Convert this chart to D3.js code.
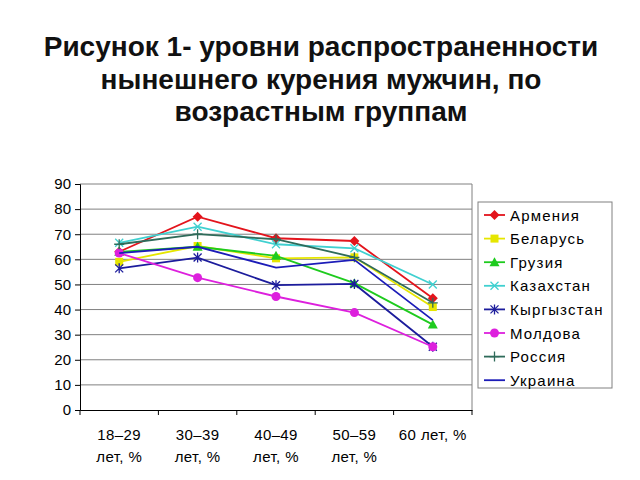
<!DOCTYPE html>
<html><head><meta charset="utf-8">
<script src="https://cdn.jsdelivr.net/npm/d3@7"></script>
<style>body{margin:0;background:#fff}svg{display:block}text{font-family:"Liberation Sans",Arial,sans-serif}</style>
</head><body><svg id="c" width="640" height="480"></svg>
<script>
const categories = [["18–29","лет, %"],["30–39","лет, %"],["40–49","лет, %"],["50–59","лет, %"],["60 лет, %"]];
const seriesNames = ["Армения","Беларусь","Грузия","Казахстан","Кыргызстан","Молдова","Россия","Украина"];
const armenia    = [63, 77, 68.4, 67.3, 44.5];
const belarus    = [59, 65.3, 60.4, 60.8, 41];
const georgia    = [63, 65, 61.4, 50.5, 34];
const kazakhstan = [66.6, 73, 66, 64.4, 50];
const kyrgyzstan = [56.4, 60.7, 49.7, 50.2, 25.2];
const moldova    = [62.5, 52.7, 45.2, 38.8, 25.2];
const russia     = [66, 70, 68, 60.8, 42.7];
const ukraine    = [62.5, 65, 56.7, 59.8, 35.8];
const yTicks = [0,10,20,30,40,50,60,70,80,90];
const colors  = ["#e3141c","#e6e600","#1ecb1e","#40d0d0","#1c1c9c","#dd20dd","#2f6b5a","#1c1cb8"];
const markers = ["diamond","square","triangle","x","asterisk","circle","plus","none"];
const values = [armenia,belarus,georgia,kazakhstan,kyrgyzstan,moldova,russia,ukraine];

const svg = d3.select("#c");
// Title
const title = ["Рисунок 1- уровни распространенности","нынешнего курения мужчин, по","возрастным группам"];
svg.append("g").selectAll("text").data(title).join("text")
  .attr("x",321).attr("y",(d,i)=>56+i*32.5).attr("text-anchor","middle")
  .attr("font-size",28).attr("font-weight","bold").attr("fill","#111").text(d=>d);

const L=80, R=472, T=184, B=410;
const x = d3.scaleBand().domain(d3.range(categories.length)).range([L,R]);
const y = d3.scaleLinear().domain([0,90]).range([B,T]);

// gridlines
svg.append("g").selectAll("line").data(yTicks.filter(d=>d>0)).join("line")
  .attr("x1",L).attr("x2",R).attr("y1",d=>y(d)).attr("y2",d=>y(d))
  .attr("stroke","#808080").attr("stroke-width",1);
svg.append("line").attr("x1",R).attr("x2",R).attr("y1",T).attr("y2",B).attr("stroke","#808080");

// axes
const yAxis = svg.append("g").attr("transform",`translate(${L},0)`)
  .call(d3.axisLeft(y).tickValues(yTicks).tickSize(5).tickPadding(4));
yAxis.select(".domain").attr("stroke","#000");
yAxis.selectAll("line").attr("stroke","#000");
yAxis.selectAll("text").attr("font-size",15).attr("font-family","Liberation Sans, Arial, sans-serif").attr("fill","#000");

const xAxis = svg.append("g").attr("transform",`translate(0,${B})`)
  .call(d3.axisBottom(x).tickSize(0).tickFormat(""));
xAxis.select(".domain").attr("stroke","#000");
svg.append("g").selectAll("line").data(d3.range(categories.length+1)).join("line")
  .attr("x1",i=>L+i*x.bandwidth()).attr("x2",i=>L+i*x.bandwidth())
  .attr("y1",B).attr("y2",B+5).attr("stroke","#000");
const xl = svg.append("g").selectAll("text").data(categories).join("text")
  .attr("x",(d,i)=>x(i)+x.bandwidth()/2).attr("y",440).attr("text-anchor","middle")
  .attr("font-size",15).attr("letter-spacing",0.4).attr("fill","#000");
xl.each(function(d){
  const t=d3.select(this);
  d.forEach((s,j)=>t.append("tspan").attr("x",t.attr("x")).attr("dy",j?21.5:0).text(s));
});

function drawMarker(g, type, color, cx, cy){
  const s=4;
  if(type==="diamond") g.append("path").attr("d",`M${cx},${cy-s-1}L${cx+s+1},${cy}L${cx},${cy+s+1}L${cx-s-1},${cy}Z`).attr("fill",color);
  else if(type==="square") g.append("rect").attr("x",cx-s).attr("y",cy-s).attr("width",2*s).attr("height",2*s).attr("fill",color);
  else if(type==="triangle") g.append("path").attr("d",`M${cx},${cy-s-1}L${cx+s+1},${cy+s}L${cx-s-1},${cy+s}Z`).attr("fill",color);
  else if(type==="circle") g.append("circle").attr("cx",cx).attr("cy",cy).attr("r",s+0.5).attr("fill",color);
  else if(type==="x") g.append("path").attr("d",`M${cx-s},${cy-s}L${cx+s},${cy+s}M${cx-s},${cy+s}L${cx+s},${cy-s}`).attr("stroke",color).attr("stroke-width",1.3);
  else if(type==="asterisk") g.append("path").attr("d",`M${cx-s},${cy-s}L${cx+s},${cy+s}M${cx-s},${cy+s}L${cx+s},${cy-s}M${cx},${cy-s-1}L${cx},${cy+s+1}`).attr("stroke",color).attr("stroke-width",1.3);
  else if(type==="plus") g.append("path").attr("d",`M${cx-s-1},${cy}L${cx+s+1},${cy}M${cx},${cy-s-1}L${cx},${cy+s+1}`).attr("stroke",color).attr("stroke-width",1.3);
}

const line = d3.line().x((d,i)=>x(i)+x.bandwidth()/2).y(d=>y(d));
values.forEach((vals,k)=>{
  const g=svg.append("g");
  g.append("path").attr("d",line(vals)).attr("fill","none").attr("stroke",colors[k]).attr("stroke-width",1.8);
  vals.forEach((v,i)=>drawMarker(g,markers[k],colors[k],x(i)+x.bandwidth()/2,y(v)));
});

// legend
const lg = svg.append("g");
lg.append("rect").attr("x",478).attr("y",202).attr("width",134).attr("height",186)
  .attr("fill","#fff").attr("stroke","#808080");
seriesNames.forEach((n,k)=>{
  const cy=215+k*23.6;
  lg.append("line").attr("x1",484).attr("x2",505).attr("y1",cy).attr("y2",cy).attr("stroke",colors[k]).attr("stroke-width",1.8);
  drawMarker(lg,markers[k],colors[k],494.5,cy);
  lg.append("text").attr("x",510).attr("y",cy+5.5).attr("font-size",15).attr("letter-spacing",1.2).attr("fill","#000").text(n);
});
</script></body></html>
